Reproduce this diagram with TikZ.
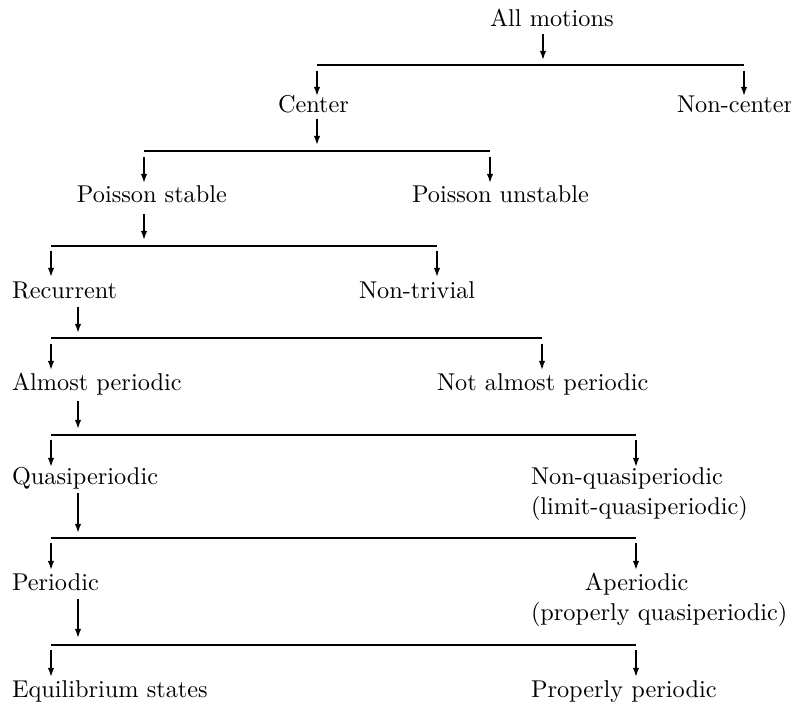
\documentclass[tikz,border=0pt]{standalone}
\usetikzlibrary{arrows.meta}
\begin{document}
\begin{tikzpicture}[x=0.4115pt,y=-0.4115pt,
  lbl/.style={anchor=base west,inner sep=0pt,outer sep=0pt,font=\normalsize},
  bar/.style={line width=0.9pt},
  arr/.style={line width=0.65pt,-{Latex[length=3.8pt,width=2.7pt]}}]
\useasboundingbox (0,0) rectangle (791,705);

% text nodes
\node[lbl] (am)  at (490,27)  {All motions};
\node[lbl] (ce)  at (278,113) {Center};
\node[lbl] (nc)  at (677,113) {Non-center};
\node[lbl] (ps)  at (77,203)  {Poisson stable};
\node[lbl] (pu)  at (412,203) {Poisson unstable};
\node[lbl] (re)  at (12,299)  {Recurrent};
\node[lbl] (nt)  at (359,299) {Non-trivial};
\node[lbl] (ap)  at (12,391)  {Almost periodic};
\node[lbl] (nap) at (437,391) {Not almost periodic};
\node[lbl] (qp)  at (12,485)  {Quasiperiodic};
\node[lbl] (nqp) at (531,485) {\vtop{\hbox{Non-quasiperiodic}\hbox{(limit-quasiperiodic)}}};
\node[lbl] (pe)  at (12,591)  {Periodic};
\node[lbl] (ape) at (531,591) {\vtop{\hbox{\hskip 22.2pt Aperiodic}\hbox{(properly quasiperiodic)}}};
\node[lbl] (eq)  at (12,697)  {Equilibrium states};
\node[lbl] (pp)  at (531,697) {Properly periodic};

% bars
\coordinate (b1l) at (317,65);  \coordinate (b1r) at (744,65);
\coordinate (b2l) at (144,151); \coordinate (b2r) at (490,151);
\coordinate (b3l) at (51,246);  \coordinate (b3r) at (437,246);
\coordinate (b4l) at (51,338);  \coordinate (b4r) at (542,338);
\coordinate (b5l) at (51,435);  \coordinate (b5r) at (636,435);
\coordinate (b6l) at (51,538);  \coordinate (b6r) at (636,538);
\coordinate (b7l) at (51,645);  \coordinate (b7r) at (636,645);
\foreach \i in {1,...,7}{\draw[bar] (b\i l) -- (b\i r);}

% arrow end points
\coordinate (s1) at (543,34);  \coordinate (e1) at (543,60);
\coordinate (s2) at (317,71);  \coordinate (e2) at (317,96);
\coordinate (s3) at (744,71);  \coordinate (e3) at (744,96);
\coordinate (s4) at (317,119); \coordinate (e4) at (317,145);
\coordinate (s5) at (144,157); \coordinate (e5) at (144,183);
\coordinate (s6) at (490,157); \coordinate (e6) at (490,183);
\coordinate (s7) at (144,214); \coordinate (e7) at (144,240);
\coordinate (s8) at (51,251);  \coordinate (e8) at (51,277);
\coordinate (s9) at (437,251); \coordinate (e9) at (437,277);
\coordinate (s10) at (78,307); \coordinate (e10) at (78,333);
\coordinate (s11) at (51,344); \coordinate (e11) at (51,370);
\coordinate (s12) at (542,344);\coordinate (e12) at (542,370);
\coordinate (s13) at (78,401); \coordinate (e13) at (78,429);
\coordinate (s14) at (51,440); \coordinate (e14) at (51,467);
\coordinate (s15) at (636,440);\coordinate (e15) at (636,467);
\coordinate (s16) at (78,493); \coordinate (e16) at (78,533);
\coordinate (s17) at (51,543); \coordinate (e17) at (51,570);
\coordinate (s18) at (636,543);\coordinate (e18) at (636,570);
\coordinate (s19) at (78,599); \coordinate (e19) at (78,638);
\coordinate (s20) at (51,650); \coordinate (e20) at (51,677);
\coordinate (s21) at (636,650);\coordinate (e21) at (636,677);
\foreach \i in {1,...,21}{\draw[arr] (s\i) -- (e\i);}
\end{tikzpicture}
\end{document}
